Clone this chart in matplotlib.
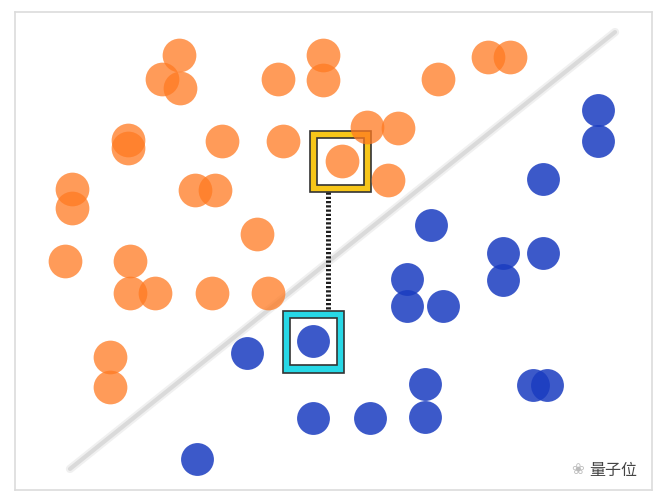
import matplotlib.pyplot as plt
from matplotlib.patches import Rectangle

# point positions (pixel units, y grows downward)
orange_x = [179, 162, 180, 278, 323, 323, 438, 488, 510,
            128, 128, 222, 283, 367, 398, 342, 388,
            72, 72, 195, 215, 257, 65, 130, 130, 155, 212, 268, 110, 110]
orange_y = [55, 79, 88, 79, 55, 80, 79, 57, 57,
            139, 147, 140, 140, 127, 128, 160, 179,
            188, 207, 189, 189, 233, 260, 260, 292, 292, 292, 292, 356, 385]

blue_x = [598, 598, 543, 431, 503, 543, 503, 407, 407, 443,
          313, 247, 425, 533, 547, 313, 370, 425, 197]
blue_y = [110, 140, 178, 224, 252, 252, 279, 278, 305, 305,
          340, 352, 382, 383, 383, 416, 416, 415, 457]

# separating line end points
sep_x = [70, 615]
sep_y = [467, 32]

# the two highlighted points (index into the lists above)
hi_orange = 15
hi_blue = 10

fig = plt.figure(figsize=(6.68, 5), dpi=100)
ax = fig.add_axes([15/668, 10/500, 637/668, 478/500])
ax.set_xlim(15, 652)
ax.set_ylim(488, 12)
ax.set_xticks([])
ax.set_yticks([])
for s in ax.spines.values():
    s.set_color('#dcdcdc')
    s.set_linewidth(1.2)

# separator
ax.plot(sep_x, sep_y, color='#f0f0f0', lw=6, solid_capstyle='round', zorder=1)
ax.plot(sep_x, sep_y, color='#dadada', lw=3, solid_capstyle='round', zorder=1)


def frame(cx, cy, col):
    half = 30.5
    band = 7
    ax.add_patch(Rectangle((cx - half, cy - half), 2*half, 2*half,
                           facecolor=col, edgecolor='#333333', lw=1.2, zorder=2))
    ax.add_patch(Rectangle((cx - half + band, cy - half + band), 2*(half - band), 2*(half - band),
                           facecolor='white', edgecolor='#333333', lw=1.2, zorder=2))


ox, oy = orange_x[hi_orange], orange_y[hi_orange]
bx, by = blue_x[hi_blue], blue_y[hi_blue]
frame(ox - 1.5, oy + 1, '#f7c619')
frame(bx + 0.5, by + 0.5, '#27d8e6')

# dotted link between the two frames
ax.plot([328, 328], [oy + 31, by - 31], color='#1e1e1e', lw=3.6,
        linestyle=(0, (0.45, 0.4)), zorder=2)

ax.scatter(orange_x, orange_y, s=590, color='#ff7a22', alpha=0.75, lw=0, zorder=3)
ax.scatter(blue_x, blue_y, s=560, color='#1a3cc0', alpha=0.85, lw=0, zorder=3)

fig.text(613/668, 1 - 470/500, '量子位', family=['Noto Sans CJK SC', 'DejaVu Sans'],
         fontsize=11.5, color='#444444', ha='center', va='center')
fig.text(578/668, 1 - 470/500, '❀', fontsize=11, color='#bbbbbb', ha='center', va='center')

fig.savefig('out.png', dpi=100, facecolor='white')
